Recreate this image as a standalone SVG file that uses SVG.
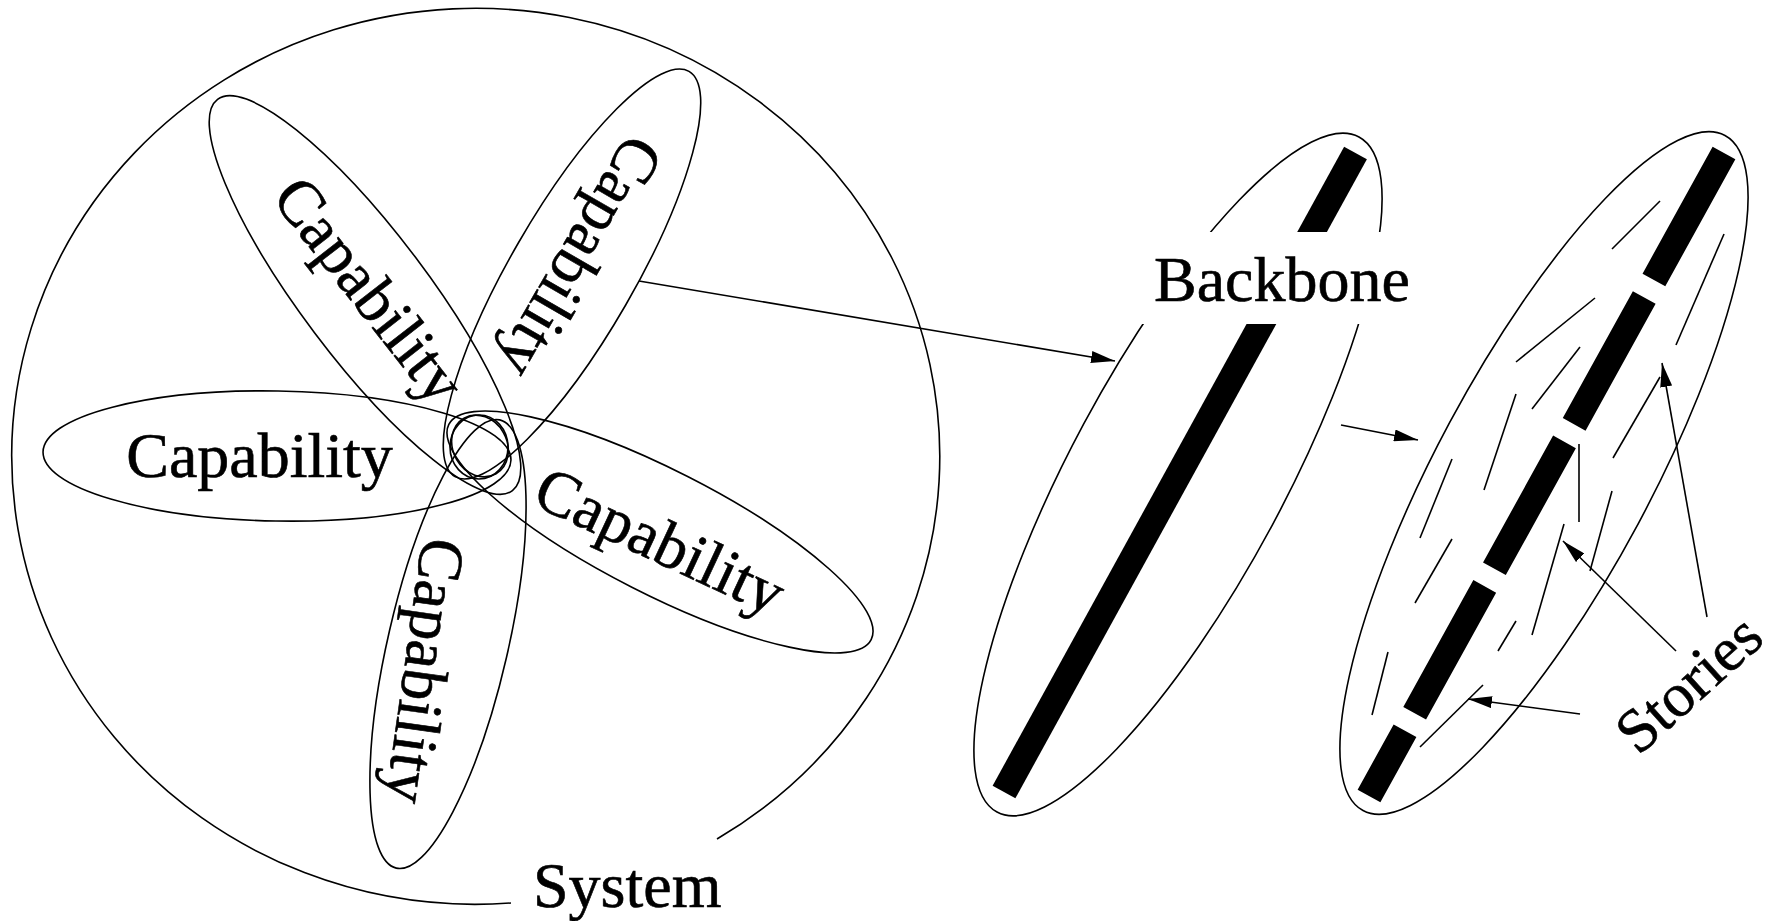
<svg xmlns="http://www.w3.org/2000/svg" width="1779" height="921" viewBox="0 0 1779 921">
<style>
.ln{fill:none;stroke:#000;stroke-width:1.6}
.tx{font-family:"Liberation Serif","Times New Roman",serif;font-size:64px;fill:#000;stroke:#000;stroke-width:0.6}
.bar{stroke:#000;stroke-width:26;fill:none;stroke-linecap:butt}
.arr{fill:none;stroke:#000;stroke-width:1.6;marker-end:url(#ah)}
</style>
<defs>
<marker id="ah" viewBox="0 0 24 12" refX="24" refY="6" markerWidth="24" markerHeight="12" markerUnits="userSpaceOnUse" orient="auto">
<path d="M0,0 L24,6 L0,12 Z" fill="#000"/>
</marker>
</defs>
<rect width="1779" height="921" fill="#fff"/>

<g id="system">
<path class="ln" d="M 717 839 A 464 448 0 1 0 511 903"/>
<text class="tx" x="533" y="907">System</text>
</g>

<g id="cap-left">
<ellipse class="ln" cx="277" cy="456" rx="234" ry="65" transform="rotate(1 277 456)"/>
<text class="tx" x="259.5" y="477" text-anchor="middle">Capability</text>
</g>
<g id="cap-upper-left">
<ellipse class="ln" cx="365" cy="295" rx="245" ry="63" transform="rotate(53 365 295)"/>
<text class="tx" text-anchor="middle" x="0" y="21" transform="translate(369 290) rotate(52)">Capability</text>
</g>
<g id="cap-upper-right">
<ellipse class="ln" cx="572" cy="274" rx="234" ry="62" transform="rotate(-60 572 274)"/>
<text class="tx" text-anchor="middle" x="0" y="21" transform="translate(580 257) rotate(120)">Capability</text>
</g>
<g id="cap-lower-right">
<ellipse class="ln" cx="660" cy="532" rx="237" ry="62" transform="rotate(27 660 532)"/>
<text class="tx" text-anchor="middle" x="0" y="21" transform="translate(660 541) rotate(25)">Capability</text>
</g>
<g id="cap-bottom">
<ellipse class="ln" cx="448" cy="644" rx="230" ry="60" transform="rotate(103 448 644)"/>
<text class="tx" text-anchor="middle" x="0" y="21" transform="translate(425 671) rotate(98)">Capability</text>
</g>
<g id="core">
<ellipse class="ln" cx="479" cy="447" rx="29" ry="32"/>
<ellipse class="ln" cx="480" cy="446" rx="27" ry="32" transform="rotate(-30 480 446)"/>
</g>

<g id="backbone">
<ellipse class="ln" cx="1178" cy="474.5" rx="383" ry="107" transform="rotate(-61.8 1178 474.5)"/>
<line class="bar" x1="1355.5" y1="153" x2="1004" y2="792"/>
<rect x="1125" y="232" width="290" height="92" fill="#fff"/>
<text class="tx" x="1154" y="301">Backbone</text>
</g>

<g id="stories-node">
<ellipse class="ln" cx="1544" cy="473" rx="383" ry="107" transform="rotate(-61.8 1544 473)"/>
<line class="bar" x1="1724" y1="153" x2="1369" y2="796" stroke-dasharray="145 20"/>
<g class="ln">
<line x1="1612" y1="249" x2="1660" y2="201"/>
<line x1="1676" y1="345" x2="1724" y2="234"/>
<line x1="1516" y1="362" x2="1595" y2="298"/>
<line x1="1532" y1="409" x2="1580" y2="347"/>
<line x1="1484" y1="490" x2="1516" y2="394"/>
<line x1="1613" y1="458" x2="1660" y2="377"/>
<line x1="1579" y1="444" x2="1579" y2="522"/>
<line x1="1612" y1="491" x2="1590" y2="571"/>
<line x1="1564" y1="524" x2="1532" y2="635"/>
<line x1="1452" y1="459" x2="1420" y2="538"/>
<line x1="1452" y1="539" x2="1415" y2="603"/>
<line x1="1516" y1="621" x2="1498" y2="651"/>
<line x1="1388" y1="652" x2="1372" y2="715"/>
<line x1="1483" y1="685" x2="1420" y2="747"/>
</g>
</g>

<g id="stories-label">
<text class="tx" style="font-size:62px" text-anchor="middle" x="0" y="20" transform="translate(1689 684) rotate(-42)">Stories</text>
</g>

<g id="connectors">
<line class="arr" x1="639" y1="281" x2="1115" y2="361"/>
<line class="arr" x1="1341" y1="425" x2="1418" y2="440"/>
<line class="arr" x1="1707" y1="617" x2="1662" y2="363"/>
<line class="arr" x1="1676" y1="651" x2="1563" y2="541"/>
<line class="arr" x1="1580" y1="714" x2="1468" y2="699"/>
</g>
</svg>
